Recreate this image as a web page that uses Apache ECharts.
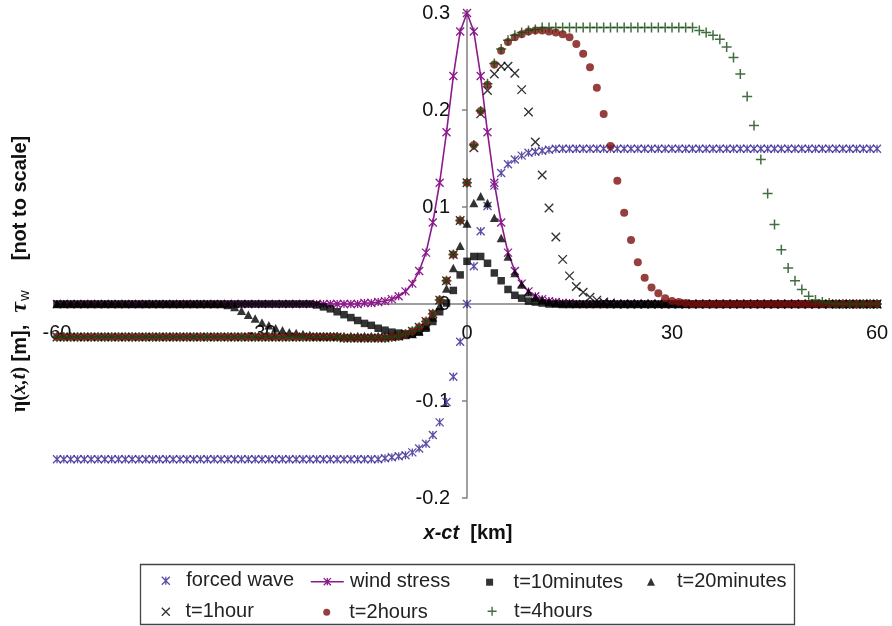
<!DOCTYPE html>
<html><head><meta charset="utf-8">
<script src="https://cdn.jsdelivr.net/npm/echarts@6/dist/echarts.min.js"></script>
<style>html,body{margin:0;padding:0;background:#fff}#c{width:892px;height:626px}</style>
</head><body><div id="c"></div>
<script>
// x - ct [km], one point per km
const xKm = [
 -60,-59,-58,-57,-56,-55,-54,-53,-52,-51,-50,-49,-48,-47,-46,-45,-44,-43,-42,-41,
 -40,-39,-38,-37,-36,-35,-34,-33,-32,-31,-30,-29,-28,-27,-26,-25,-24,-23,-22,-21,
 -20,-19,-18,-17,-16,-15,-14,-13,-12,-11,-10,-9,-8,-7,-6,-5,-4,-3,-2,-1,
 0,1,2,3,4,5,6,7,8,9,10,11,12,13,14,15,16,17,18,19,
 20,21,22,23,24,25,26,27,28,29,30,31,32,33,34,35,36,37,38,39,
 40,41,42,43,44,45,46,47,48,49,50,51,52,53,54,55,56,57,58,59,60];

const forcedWave = [
 -0.160,-0.160,-0.160,-0.160,-0.160,-0.160,-0.160,-0.160,-0.160,-0.160,-0.160,-0.160,
 -0.160,-0.160,-0.160,-0.160,-0.160,-0.160,-0.160,-0.160,-0.160,-0.160,-0.160,-0.160,
 -0.160,-0.160,-0.160,-0.160,-0.160,-0.160,-0.160,-0.160,-0.160,-0.160,-0.160,-0.160,
 -0.160,-0.160,-0.160,-0.160,-0.160,-0.160,-0.160,-0.160,-0.160,-0.160,-0.160,-0.160,
 -0.159,-0.158,-0.157,-0.156,-0.153,-0.149,-0.144,-0.135,-0.122,-0.101,-0.075,-0.039,0,
 0.039,0.075,0.101,0.122,0.135,0.144,0.149,0.153,0.156,0.157,0.158,0.159,
 0.160,0.160,0.160,0.160,0.160,0.160,0.160,0.160,0.160,0.160,0.160,0.160,
 0.160,0.160,0.160,0.160,0.160,0.160,0.160,0.160,0.160,0.160,0.160,0.160,
 0.160,0.160,0.160,0.160,0.160,0.160,0.160,0.160,0.160,0.160,0.160,0.160,
 0.160,0.160,0.160,0.160,0.160,0.160,0.160,0.160,0.160,0.160,0.160,0.160];

const windStress = [
 0,0,0,0,0,0,0,0,0,0,0,0,0,0,0,0,0,0,0,0,0,0,0,0,0,0,0,0,0,0,0,0,0,0,0,0,0,0,0,0,0,0,0,0,0,
 0.001,0.001,0.002,0.003,0.005,0.008,0.013,0.021,0.034,0.053,0.084,0.125,0.177,0.235,0.281,
 0.300,
 0.281,0.235,0.177,0.125,0.084,0.053,0.034,0.021,0.013,0.008,0.005,0.003,0.002,0.001,0.001,
 0,0,0,0,0,0,0,0,0,0,0,0,0,0,0,0,0,0,0,0,0,0,0,0,0,0,0,0,0,0,0,0,0,0,0,0,0,0,0,0,0,0,0,0,0];

const t10min = [
 0,0,0,0,0,0,0,0,0,0,0,0,0,0,0,0,0,0,0,0,0,0,0,0,0,0,0,0,0,0,0,0,0,0,0,0,0,0,
 -0.001,-0.003,-0.005,-0.008,-0.011,-0.014,-0.017,-0.020,-0.022,-0.025,-0.027,-0.029,
 -0.030,-0.031,-0.031,-0.029,-0.025,-0.018,-0.008,0.001,0.014,0.030,
 0.044,0.049,0.049,0.042,0.032,0.024,0.015,0.009,0.006,0.003,0.002,0.001,
 0,0,0,0,0,0,0,0,0,0,0,0,0,0,0,0,0,0,0,0,0,0,0,0,0,0,0,0,0,0,0,0,0,0,0,0,0,0,0,0,0,0,0,0,0,0,0,0,0];

const t20min = [
 0,0,0,0,0,0,0,0,0,0,0,0,0,0,0,0,0,0,0,0,0,0,0,0,0,
 -0.001,-0.003,-0.007,-0.011,-0.015,-0.019,-0.022,-0.025,-0.027,-0.029,-0.030,-0.031,-0.032,
 -0.033,-0.033,-0.033,-0.033,-0.033,-0.033,-0.033,-0.033,-0.033,-0.033,-0.033,-0.033,-0.033,
 -0.032,-0.031,-0.028,-0.023,-0.014,-0.002,0.016,0.037,0.060,
 0.083,0.104,0.111,0.104,0.089,0.068,0.049,0.032,0.020,0.012,0.007,0.004,0.002,0.001,
 0,0,0,0,0,0,0,0,0,0,0,0,0,0,0,0,0,0,0,0,0,0,0,0,0,0,0,0,0,0,0,0,0,0,0,0,0,0,0,0,0,0,0,0,0,0,0];

const t1hour = [
 -0.034,-0.034,-0.034,-0.034,-0.034,-0.034,-0.034,-0.034,-0.034,-0.034,-0.034,-0.034,-0.034,-0.034,
 -0.034,-0.034,-0.034,-0.034,-0.034,-0.034,-0.034,-0.034,-0.034,-0.034,-0.034,-0.034,-0.034,-0.034,
 -0.034,-0.034,-0.034,-0.034,-0.034,-0.034,-0.034,-0.034,-0.034,-0.034,-0.034,-0.034,-0.034,-0.034,
 -0.035,-0.035,-0.035,-0.035,-0.035,-0.035,-0.035,
 -0.034,-0.033,-0.031,-0.028,-0.024,-0.018,-0.010,0.004,0.024,0.051,0.086,0.125,
 0.161,0.196,0.220,0.237,0.245,0.245,0.238,0.221,0.198,0.167,0.133,0.099,0.069,0.046,0.029,
 0.018,0.012,0.007,0.004,0.002,0.001,
 0,0,0,0,0,0,0,0,0,0,0,0,0,0,0,0,0,0,0,0,0,0,0,0,0,0,0,0,0,0,0,0,0,0,0,0,0,0,0];

const t2hours = [
 -0.034,-0.034,-0.034,-0.034,-0.034,-0.034,-0.034,-0.034,-0.034,-0.034,-0.034,-0.034,-0.034,-0.034,
 -0.034,-0.034,-0.034,-0.034,-0.034,-0.034,-0.034,-0.034,-0.034,-0.034,-0.034,-0.034,-0.034,-0.034,
 -0.034,-0.034,-0.034,-0.034,-0.034,-0.034,-0.034,-0.034,-0.034,-0.034,-0.034,-0.034,-0.034,-0.034,
 -0.035,-0.035,-0.035,-0.035,-0.035,-0.035,-0.035,
 -0.034,-0.033,-0.031,-0.028,-0.024,-0.018,-0.010,0.004,0.024,0.051,0.086,0.125,
 0.164,0.199,0.226,0.247,0.261,0.270,0.275,0.278,0.281,0.282,0.282,0.281,0.280,0.278,0.275,0.268,
 0.258,0.244,0.223,0.196,0.163,0.127,0.094,0.066,0.043,0.027,0.017,0.011,0.006,0.003,0.002,0.001,
 0,0,0,0,0,0,0,0,0,0,0,0,0,0,0,0,0,0,0,0,0,0,0,0,0,0,0,0];

const t4hours = [
 -0.034,-0.034,-0.034,-0.034,-0.034,-0.034,-0.034,-0.034,-0.034,-0.034,-0.034,-0.034,-0.034,-0.034,
 -0.034,-0.034,-0.034,-0.034,-0.034,-0.034,-0.034,-0.034,-0.034,-0.034,-0.034,-0.034,-0.034,-0.034,
 -0.034,-0.034,-0.034,-0.034,-0.034,-0.034,-0.034,-0.034,-0.034,-0.034,-0.034,-0.034,-0.034,-0.034,
 -0.035,-0.035,-0.035,-0.035,-0.035,-0.035,-0.035,
 -0.034,-0.033,-0.031,-0.028,-0.024,-0.018,-0.010,0.004,0.024,0.051,0.086,0.125,
 0.164,0.199,0.227,0.248,0.263,0.272,0.277,0.280,0.282,0.283,
 0.285,0.285,0.285,0.285,0.285,0.285,0.285,0.285,0.285,0.285,0.285,0.285,
 0.285,0.285,0.285,0.285,0.285,0.285,0.285,0.285,0.285,0.285,0.285,
 0.282,0.280,0.277,0.273,0.265,0.254,0.237,0.214,0.184,0.149,0.114,0.082,0.056,0.037,0.024,
 0.015,0.008,0.004,0.002,0.001,
 0,0,0,0,0,0,0];

const seriesNames = ['forced wave','wind stress','t=10minutes','t=20minutes','t=1hour','t=2hours','t=4hours'];
const xTickValues = [-60,-30,0,30,60];
const yTickValues = [-0.2,-0.1,0,0.1,0.2,0.3];

const FONT = '"Liberation Sans", Arial, Helvetica, sans-serif';
const SERIF = '"Liberation Serif", "Times New Roman", serif';
const C_FW = '#30228f', C_WS = '#8c1a8c', C_BK = '#000000', C_RED = '#7a0f0f', C_GRN = '#134a13';
const P_AST = 'path://M0,0L10,10M10,0L0,10M5,0L5,10';
const P_X = 'path://M0,0L10,10M10,0L0,10';
const P_PLUS = 'path://M5,0L5,10M0,5L10,5';

const pairs = arr => xKm.map((x, i) => [x, arr[i]]);
const strokeStyle = (c, w) => ({color: 'none', borderColor: c, borderWidth: w || 1.35});

const series = [
  {name: seriesNames[0], type: 'scatter', data: pairs(forcedWave), symbol: P_AST, symbolSize: 8, itemStyle: strokeStyle(C_FW, 1.3)},
  {name: seriesNames[1], type: 'line', data: pairs(windStress), symbol: P_AST, symbolSize: 8, showSymbol: true,
   lineStyle: {color: C_WS, width: 1.6}, itemStyle: strokeStyle(C_WS, 1.3)},
  {name: seriesNames[2], type: 'scatter', data: pairs(t10min), symbol: 'rect', symbolSize: 7.5, itemStyle: {color: C_BK}},
  {name: seriesNames[3], type: 'scatter', data: pairs(t20min), symbol: 'triangle', symbolSize: [9, 8.5], itemStyle: {color: C_BK}},
  {name: seriesNames[4], type: 'scatter', data: pairs(t1hour), symbol: P_X, symbolSize: 8.5, itemStyle: strokeStyle(C_BK, 1.4)},
  {name: seriesNames[5], type: 'scatter', data: pairs(t2hours), symbol: 'circle', symbolSize: 8, itemStyle: {color: C_RED}},
  {name: seriesNames[6], type: 'scatter', data: pairs(t4hours), symbol: P_PLUS, symbolSize: 10, itemStyle: strokeStyle(C_GRN, 1.5)}
];
series.forEach((s, i) => { s.z = 2 + i; s.emphasis = {disabled: true}; s.silent = true; });

function leg(name, left, top, w, h, pad, itemStyle, lineStyle) {
  const o = {data: [name], left, top, itemWidth: w, itemHeight: h, padding: 0, selectedMode: false, z: 10,
    textStyle: {fontFamily: FONT, fontSize: 20, color: '#222', padding: [0, 0, 0, pad]}, itemStyle};
  if (lineStyle) o.lineStyle = lineStyle;
  return o;
}
const r1 = 570.7, r2 = 600.7;
const legends = [
  leg(seriesNames[0], 159.3, r1, 8, 8, 11.5, strokeStyle(C_FW, 1.3)),
  leg(seriesNames[1], 310, r1 + 1, 33, 9, 1.3, strokeStyle(C_WS, 1.3), {color: C_WS, width: 1.6}),
  leg(seriesNames[2], 486.1, r1 + 1.5, 7, 7, 15.5, {color: C_BK}),
  leg(seriesNames[3], 647, r1 + 1, 8, 8, 17, {color: C_BK}),
  leg(seriesNames[4], 159.3, r2 + 1, 8, 8, 10.7, strokeStyle(C_BK, 1.3)),
  leg(seriesNames[5], 323.2, r2 + 1.5, 7, 7, 14.1, {color: C_RED}),
  leg(seriesNames[6], 485.1, r2 + 0.5, 9, 9, 12.5, strokeStyle(C_GRN, 1.4))
];

const axisGray = '#808080';
const GRID = {left: 57, right: 15, top: 13, bottom: 128};
const option = {
  animation: false,
  backgroundColor: '#ffffff',
  grid: Object.assign({containLabel: false}, GRID),
  xAxis: {
    type: 'value', min: xTickValues[0], max: xTickValues[xTickValues.length - 1], interval: 30,
    position: 'bottom', offset: -194,
    axisLine: {onZero: false, lineStyle: {color: axisGray, width: 1.5}},
    axisTick: {show: true, length: 4, lineStyle: {color: axisGray, width: 1.5}},
    axisLabel: {fontFamily: FONT, fontSize: 20, color: '#111', margin: 19},
    splitLine: {show: false}
  },
  yAxis: {
    type: 'value', min: yTickValues[0], max: yTickValues[yTickValues.length - 1], interval: 0.1,
    position: 'left', offset: -410,
    axisLine: {onZero: false, lineStyle: {color: axisGray, width: 1.5}},
    axisTick: {show: true, length: 5, lineStyle: {color: axisGray, width: 1.5}},
    axisLabel: {fontFamily: FONT, fontSize: 20, color: '#111', margin: 17,
      formatter: v => { const r = Math.round(v * 10) / 10; return r === 0 ? '0' : String(r); }},
    splitLine: {show: false}
  },
  legend: legends,
  graphic: [
    {type: 'rect', z: 0, silent: true, shape: {x: 140.5, y: 564.5, width: 654, height: 60},
     style: {fill: '#ffffff', stroke: '#444444', lineWidth: 1.3}},
    {type: 'text', z: 5, x: 20, y: 274, rotation: Math.PI / 2, silent: true,
     style: {
       text: '{g|η(}{i|x,t}{g|)}{b| [m],}{gap1| }{t|τ}{s|w}{gap2| }{b|[not to scale]}',
       align: 'center', verticalAlign: 'middle', fill: '#111',
       rich: {
         g: {fontFamily: SERIF, fontSize: 20, fontWeight: 'bold', fill: '#111'},
         i: {fontFamily: SERIF, fontSize: 20, fontWeight: 'bold', fontStyle: 'italic', fill: '#111'},
         b: {fontFamily: FONT, fontSize: 20, fontWeight: 'bold', fill: '#111'},
         gap1: {width: 12, fontSize: 20},
         t: {fontFamily: SERIF, fontSize: 24, fontStyle: 'italic', fontWeight: 'bold', fill: '#111'},
         s: {fontFamily: FONT, fontSize: 15, fill: '#111', verticalAlign: 'bottom', padding: [7, 0, 0, 1]},
         gap2: {width: 30, fontSize: 20}
       }
     }},
    {type: 'text', z: 5, x: 468, y: 533, silent: true,
     style: {
       text: '{bi|x-ct}{b|  [km]}', align: 'center', verticalAlign: 'middle', fill: '#111',
       rich: {
         bi: {fontFamily: FONT, fontSize: 20, fontWeight: 'bold', fontStyle: 'italic', fill: '#111'},
         b: {fontFamily: FONT, fontSize: 20, fontWeight: 'bold', fill: '#111'}
       }
     }}
  ],
  series: series
};
const chart = echarts.init(document.getElementById('c'), null, {renderer: 'canvas'});
chart.setOption(option);
</script>
</body></html>
